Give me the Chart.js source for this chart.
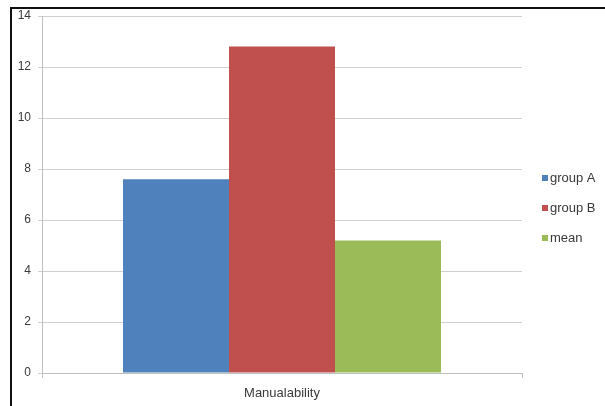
<!DOCTYPE html>
<html>
<head>
<meta charset="utf-8">
<script src="https://cdn.jsdelivr.net/npm/chart.js@4/dist/chart.umd.min.js"></script>
<style>
  html, body { margin: 0; padding: 0; background: #fff; }
  #wrap { width: 605px; height: 406px; position: relative; }
</style>
</head>
<body>
<div id="wrap"><canvas id="c" width="605" height="406"></canvas></div>
<script>
// Data
const categories = ['Manualability'];
const seriesNames = ['group A', 'group B', 'mean'];
const groupA = [7.6];
const groupB = [12.8];
const meanValues = [5.2];
const yTicks = [0, 2, 4, 6, 8, 10, 12, 14];

const colors = ['#4F81BD', '#C0504D', '#9BBB59'];
const FONT = '"Liberation Sans", Arial, sans-serif';
const TEXT = '#3a3a3a';

// Outer frame (left and top edges) around the chart
const framePlugin = {
  id: 'frame',
  afterDraw(chart) {
    const ctx = chart.ctx;
    ctx.save();
    ctx.strokeStyle = '#111';
    ctx.lineWidth = 2;
    ctx.beginPath();
    ctx.moveTo(11, 406);
    ctx.lineTo(11, 8);
    ctx.lineTo(605, 8);
    ctx.stroke();
    ctx.restore();
  }
};

// Legend drawn to the right of the plot, one entry per dataset
const sideLegend = {
  id: 'sideLegend',
  afterDraw(chart) {
    const ctx = chart.ctx;
    ctx.save();
    ctx.font = '13px ' + FONT;
    ctx.textBaseline = 'middle';
    ctx.textAlign = 'left';
    chart.data.datasets.forEach((ds, i) => {
      const y = 178 + i * 30;
      ctx.fillStyle = ds.backgroundColor;
      ctx.fillRect(542, y - 3, 6, 6);
      ctx.fillStyle = TEXT;
      ctx.fillText(ds.label, 550, y);
    });
    ctx.restore();
  }
};

const data = {
  labels: categories,
  datasets: [groupA, groupB, meanValues].map((vals, i) => ({
    label: seriesNames[i],
    data: vals,
    backgroundColor: colors[i],
    borderWidth: 0,
    barPercentage: 1.0,
    categoryPercentage: 0.6625
  }))
};

new Chart(document.getElementById('c'), {
  type: 'bar',
  data,
  options: {
    responsive: false,
    animation: false,
    devicePixelRatio: 1,
    layout: { padding: { left: 10, right: 83, top: 16, bottom: 0 } },
    plugins: {
      legend: { display: false },
      tooltip: { enabled: false }
    },
    scales: {
      x: {
        grid: {
          display: true,
          drawOnChartArea: false,
          drawTicks: true,
          tickLength: 5,
          color: '#bfbfbf',
          offset: true
        },
        border: { display: true, color: '#bfbfbf', width: 1 },
        ticks: {
          color: TEXT,
          font: { family: FONT, size: 13 },
          padding: 8
        },
        afterFit(scale) { scale.height = 33; }
      },
      y: {
        min: 0,
        max: 14,
        afterBuildTicks(scale) { scale.ticks = yTicks.map(v => ({ value: v })); },
        grid: {
          color: '#d0d0d0',
          lineWidth: 1,
          drawTicks: true,
          tickLength: 4
        },
        border: { display: true, color: '#bfbfbf', width: 1 },
        ticks: {
          color: TEXT,
          font: { family: FONT, size: 12 },
          padding: 7
        },
        afterFit(scale) { scale.width = 32; }
      }
    }
  },
  plugins: [framePlugin, sideLegend]
});
</script>
</body>
</html>
